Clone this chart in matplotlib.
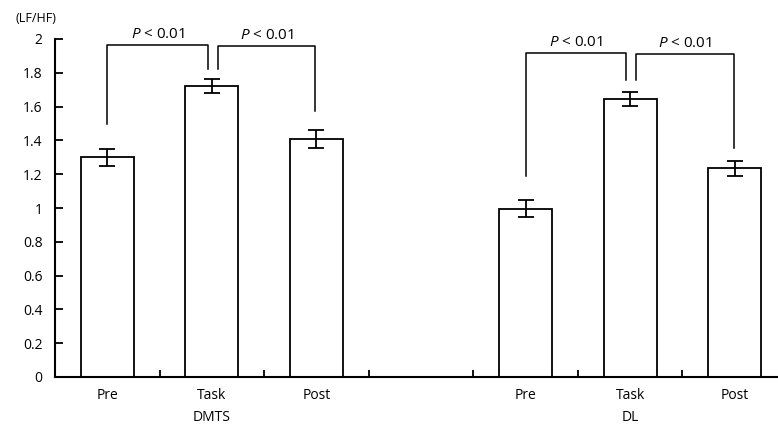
import matplotlib
matplotlib.use('Agg')
import numpy as np
import matplotlib.pyplot as plt

groups = ['DMTS', 'DL']
conditions = ['Pre', 'Task', 'Post']
dmts_mean = [1.30, 1.72, 1.41]
dmts_err = [0.05, 0.042, 0.054]
dl_mean = [0.995, 1.645, 1.235]
dl_err = [0.05, 0.042, 0.043]
# significance brackets: (top of bracket, leg ends for Pre-Task and Task-Post)
dmts_brackets = [(1.964, 1.50, 1.822), (1.956, 1.822, 1.574)]
dl_brackets = [(1.919, 1.189, 1.757), (1.909, 1.757, 1.357)]
p_label = r'$P$ < 0.01'

plt.rcParams['font.family'] = ['Open Sans', 'DejaVu Sans']
plt.rcParams['mathtext.fontset'] = 'custom'
plt.rcParams['mathtext.it'] = 'Open Sans:italic'
plt.rcParams['mathtext.rm'] = 'Open Sans'

fig = plt.figure(figsize=(7.78, 4.26), dpi=100)
ax = fig.add_axes([55/778, 49/426, 732/778, 338/426])

lw = 1.3
bases = [0, 4]
all_means = [dmts_mean, dl_mean]
all_errs = [dmts_err, dl_err]
all_br = [dmts_brackets, dl_brackets]

for base, means, errs, brs in zip(bases, all_means, all_errs, all_br):
    xs = np.arange(3) + base
    ax.bar(xs, means, width=0.505, facecolor='white', edgecolor='black',
           linewidth=lw, zorder=2)
    ax.errorbar(xs, means, yerr=errs, fmt='none', ecolor='black',
                elinewidth=lw, capsize=5.8, capthick=lw, zorder=3)
    # Pre vs Task
    top, l1, l2 = brs[0]
    xa, xb = base + 0.0, base + 0.963
    ax.plot([xa, xa, xb, xb], [l1, top, top, l2], color='black', lw=1.1,
            clip_on=False)
    ax.text((xa + xb) / 2, top + 0.018, p_label, ha='center',
            va='bottom', fontsize=11, clip_on=False)
    # Task vs Post
    top, l1, l2 = brs[1]
    xa, xb = base + 1.058, base + 1.99
    ax.plot([xa, xa, xb, xb], [l1, top, top, l2], color='black', lw=1.1,
            clip_on=False)
    ax.text((xa + xb) / 2, top + 0.018, p_label, ha='center',
            va='bottom', fontsize=11, clip_on=False)

ax.set_xlim(-0.5, 6.5)
ax.set_ylim(0, 2)
ax.set_yticks(np.arange(0, 2.01, 0.2))
ax.set_yticklabels(['0', '0.2', '0.4', '0.6', '0.8', '1', '1.2', '1.4',
                    '1.6', '1.8', '2'])

ax.set_xticks([0, 1, 2, 4, 5, 6])
ax.set_xticklabels(conditions + conditions)
ax.set_xticks([0.5, 1.5, 2.5, 3.5, 4.5, 5.5], minor=True)
ax.tick_params(axis='x', which='major', length=0, pad=8, labelsize=10)
ax.tick_params(axis='x', which='minor', direction='in', length=5, width=1.3)
ax.tick_params(axis='y', direction='in', length=6, width=1.3, pad=9,
               labelsize=10)

for s in ['top', 'right']:
    ax.spines[s].set_visible(False)
ax.spines['left'].set_linewidth(1.5)
ax.spines['bottom'].set_linewidth(1.5)

ax.text(1, -0.237, groups[0], transform=ax.transData, ha='center',
        va='center', fontsize=10)
ax.text(5, -0.237, groups[1], transform=ax.transData, ha='center',
        va='center', fontsize=10)

fig.text(15/778, 1 - 18/426, '(LF/HF)', ha='left', va='center', fontsize=9)

fig.savefig('out.png', dpi=100)
